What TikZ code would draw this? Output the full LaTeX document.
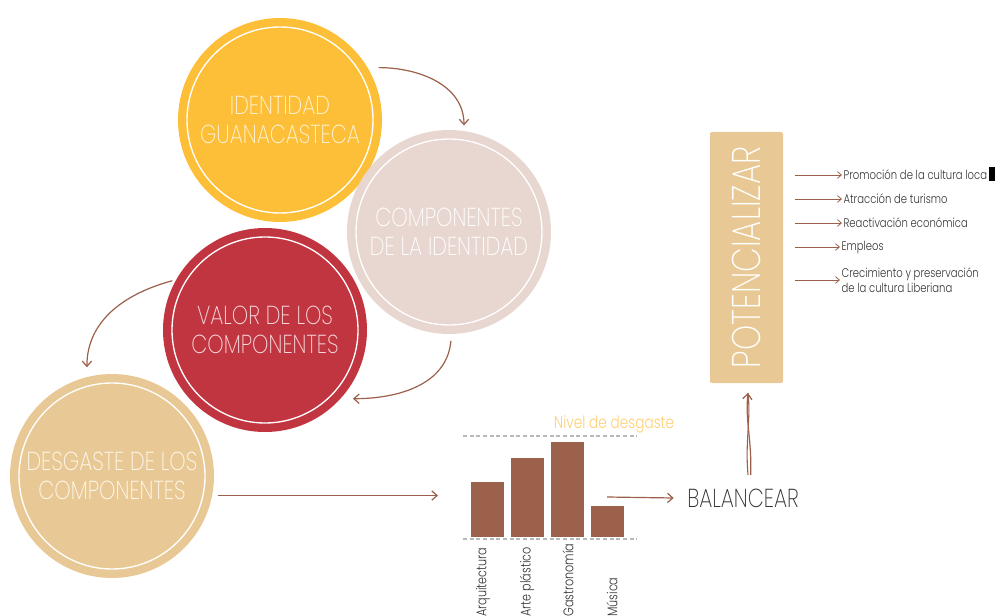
\documentclass[tikz,border=0pt]{standalone}
\usepackage{fontspec}
\setmainfont{Poppins}[UprightFont=* Light, FakeStretch=0.8]
\newfontfamily\thinfont{Poppins}[UprightFont=* ExtraLight, FakeStretch=0.8]
\usepackage{tikz}
\usetikzlibrary{arrows.meta}
\usetikzlibrary{positioning}
\definecolor{identyellow}{HTML}{FDBF38}
\definecolor{identcream}{HTML}{FFF3D6}
\definecolor{comppink}{HTML}{E8D6D0}
\definecolor{valorred}{HTML}{C13540}
\definecolor{valorpink}{HTML}{F6D9DC}
\definecolor{desgtan}{HTML}{E8C995}
\definecolor{desgcream}{HTML}{FFF8EE}
\definecolor{arrowbrown}{HTML}{9C5F4A}
\definecolor{barbrown}{HTML}{9C614B}
\definecolor{nivelgold}{HTML}{FDCF72}
\definecolor{darktext}{HTML}{333333}
\tikzset{link/.style = {draw=arrowbrown, line width=0.9pt, -{Straight Barb[length=4pt, width=7pt]}}}
\tikzset{itemlink/.style = {draw=arrowbrown, line width=0.6pt, -{Straight Barb[length=3pt, width=5pt]}}}
\tikzset{bigcirc/.style = {circle, minimum size=153pt, inner sep=0, align=center,
                           font=\thinfont\fontsize{19.5}{21.75}\selectfont}}
\tikzset{ring/.style = {draw=white, line width=1pt}}
\tikzset{bar/.style = {fill=barbrown, minimum width=24.75pt, inner sep=0, anchor=south}}
\tikzset{guide/.style = {draw=gray!55, line width=0.8pt, dash pattern=on 3pt off 2pt}}
\tikzset{axislabel/.style = {rotate=90, anchor=west, inner sep=0, text=darktext,
                             font=\fontsize{10.5}{12}\selectfont}}
\tikzset{item/.style = {anchor=west, inner sep=1pt, text=darktext, align=left,
                        font=\fontsize{9.4}{11.5}\selectfont}}

\begin{document}
\begin{tikzpicture}[x=0.75pt, y=-0.75pt]
  \useasboundingbox (0,0) rectangle (995,616);
  % the four circles
  \node[bigcirc, fill=identyellow, text=identcream] (ident) at (280,120) {IDENTIDAD\\GUANACASTECA};
  \node[bigcirc, fill=comppink, text=white] (comp) at (449,232) {COMPONENTES\\DE LA IDENTIDAD};
  \node[bigcirc, fill=valorred, text=valorpink] (valor) at (265,330) {VALOR DE LOS\\COMPONENTES};
  \node[bigcirc, fill=desgtan, text=desgcream] (desg) at (112,476) {DESGASTE DE LOS\\COMPONENTES};
  \foreach \c in {ident, comp, valor, desg}
    \draw[ring] (\c.center) circle [radius=69.75pt];
  \draw[link] ([shift={(28:7pt)}]ident.28) to[out=0, in=90] ([shift={(82:4pt)}]comp.82);
  \draw[link] ([shift={(-89:5pt)}]comp.-89) to[out=-95, in=0] ([shift={(-38:7pt)}]valor.-38);
  \draw[link] ([shift={(152:2pt)}]valor.152) to[out=195, in=90] ([shift={(103:7pt)}]desg.103);
  % chart
  \coordinate (chart-in) at (438,496);
  \draw[link] ([xshift=4pt]desg.-11) -- (chart-in |- desg.-11);
  \draw[guide] (463,436) -- (637,436);
  \draw[guide] (463,539) -- (637,539);
  \foreach \h [count=\i] in {55,79,95,31}
    \node[bar, minimum height={0.75pt*\h}] (bar\i) at (447.5+40*\i,537) {};
  \foreach \t/\x [count=\i] in {Arquitectura/483, Arte plástico/527, Gastronomía/568, Música/612}
    \node[axislabel] (lab\i) at (\x,617) {\t};
  \node[text=nivelgold, font=\fontsize{12.8}{14}\selectfont] (nivel) at (614,424) {Nivel de desgaste};
  % balancear and potencializar
  \coordinate (chart-out) at (607,497);
  \node[text=darktext, font=\thinfont\fontsize{19.5}{22}\selectfont, inner sep=2pt] (balanc) at (743,498) {BALANCEAR};
  \draw[link] (chart-out) -- ([xshift=-8pt]balanc.west);
  \node[fill=desgtan, rounded corners=1.5pt, rotate=90, minimum width=188.25pt, minimum height=54.75pt,
        text=white, font=\thinfont\fontsize{30}{32}\selectfont] (potenc) at (746.5,257.5) {POTENCIALIZAR};
  \coordinate (bal-top) at (748,475);
  \coordinate (pot-bot) at (748,393);
  \draw[arrowbrown, line width=0.8pt] (bal-top) .. controls (745,440) and (751,420) .. (pot-bot);
  \draw[link] ([xshift=2pt]bal-top) .. controls (752,440) and (745,420) .. (pot-bot);
  % list
  \coordinate (listx) at (795,0);
  \node[item] (promo) at (842,175) {Promoción de la cultura loca};
  \node[item] (atrac) at (842,199) {Atracción de turismo};
  \node[item] (react) at (842,223) {Reactivación económica};
  \node[item] (empleo) at (840,247) {Empleos};
  \node[item] (crec) at (840,280) {Crecimiento y preservación\\de la cultura Liberiana};
  \foreach \n in {promo, atrac, react, empleo, crec}
    \draw[itemlink] (listx |- \n.west) -- (\n.west);
  \fill[black] (989,167) rectangle (995,181);
\end{tikzpicture}
\end{document}
